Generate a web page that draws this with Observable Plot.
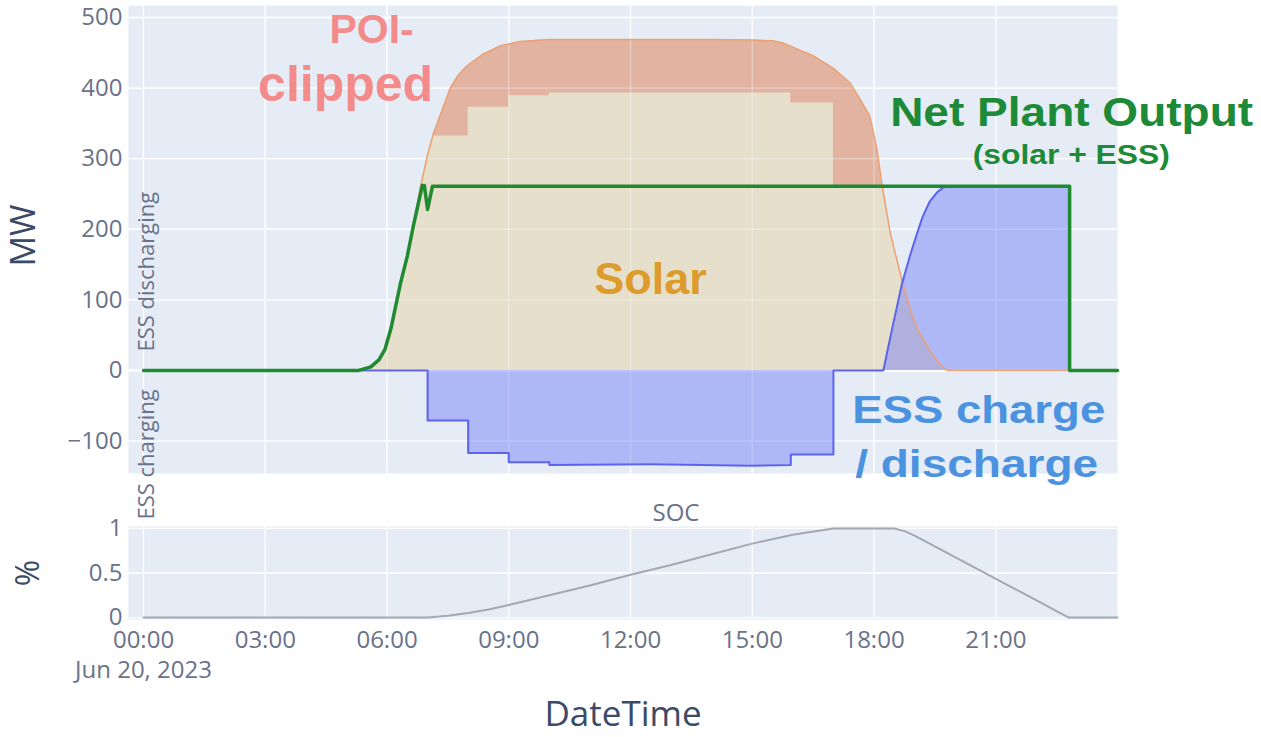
<!DOCTYPE html>
<html>
<head>
<meta charset="utf-8">
<script src="https://cdn.jsdelivr.net/npm/d3@7"></script>
<script src="https://cdn.jsdelivr.net/npm/@observablehq/plot@0.6"></script>
<style>
  html, body { margin: 0; padding: 0; background: #ffffff; }
  #chart { position: relative; width: 1261px; height: 737px; overflow: hidden; }
  #chart svg { position: absolute; left: 0; top: 0; }
</style>
</head>
<body>
<div id="chart"></div>
<script>
// ---------- data (hours after 2023-06-20 00:00 UTC) ----------
const solarHours = [0, 5.3, 5.6, 5.8, 5.95, 6.1, 6.33, 6.5, 6.65, 6.82, 7.0, 7.14, 7.32, 7.56, 7.75, 7.98, 8.37, 8.8, 9.29, 10, 12, 14, 15, 15.5, 15.76, 16.0, 16.5, 17.0, 17.4, 17.65, 17.9, 18.08, 18.2, 18.4, 18.69, 18.9, 19.1, 19.38, 19.6, 19.8, 24];
const solarMW    = [0, 0, 5, 15, 30, 60, 123, 162, 205, 259, 305, 335, 363, 400, 418, 432, 448, 460, 466, 469, 469, 469, 468, 467, 464, 458, 446, 428, 408, 385, 360, 311, 262, 195, 127, 85, 55, 28, 10, 0, 0];

const deliveredHours = [0, 5.3, 5.6, 5.8, 5.95, 6.1, 6.33, 6.5, 6.65, 6.82, 7.0, 7.12, 8.0, 8.0, 9.0, 9.0, 10.0, 10.0, 15.95, 15.95, 17.0, 17.0, 18.2, 18.4, 18.69, 18.9, 19.1, 19.38, 19.6, 19.8, 24];
const deliveredMW    = [0, 0, 5, 15, 30, 60, 123, 162, 205, 259, 305, 332, 332, 373, 373, 389, 389, 393, 393, 379, 379, 260, 260, 195, 127, 85, 55, 28, 10, 0, 0];

const essHours = [0, 7.0, 7.0, 8.0, 8.0, 9.0, 9.0, 10.0, 10.0, 12.5, 15.0, 15.95, 15.95, 17.0, 17.0, 18.23, 18.45, 18.69, 18.9, 19.06, 19.2, 19.38, 19.55, 19.7, 19.85, 22.82, 22.82, 24];
const essMW    = [0, 0, -71, -71, -117, -117, -130, -130, -134, -133, -135, -134, -119, -119, 0, 0, 60, 123, 165, 194, 218, 240, 252, 259, 261, 261, 0, 0];

const netHours = [0, 5.3, 5.6, 5.8, 5.95, 6.1, 6.33, 6.5, 6.65, 6.87, 6.92, 7.0, 7.12, 22.82, 22.82, 24];
const netMW    = [0, 0, 5, 15, 30, 60, 123, 162, 205, 262, 262, 228, 261, 261, 0, 0];

const socHours = [0, 7.0, 7.5, 8.0, 8.5, 9.0, 10, 11, 12, 13, 14, 15, 16, 17.0, 18.5, 18.75, 19.0, 22.8, 24];
const socValue = [0, 0, 0.02, 0.05, 0.09, 0.14, 0.25, 0.36, 0.48, 0.59, 0.71, 0.83, 0.93, 1.0, 1.0, 0.97, 0.92, 0, 0];

const xTickHours = [0, 3, 6, 9, 12, 15, 18, 21];
const yTicksMW = [-100, 0, 100, 200, 300, 400, 500];
const yTicksSOC = [0, 0.5, 1];
const dateLabel = "Jun 20, 2023";

// ---------- helpers ----------
const t = h => new Date(Date.UTC(2023, 5, 20) + h * 3600000);
const rows = (hours, vals) => hours.map((h, i) => ({time: t(h), value: vals[i]}));
const solar = rows(solarHours, solarMW);
const delivered = rows(deliveredHours, deliveredMW);
const ess = rows(essHours, essMW);
const net = rows(netHours, netMW);
const soc = rows(socHours, socValue);
const xTicks = xTickHours.map(t);
const xDomain = [t(-0.37), t(24)];

const BG = "#e5ecf6";
const TICK = "#69728a";
const TITLE = "#3b4a66";
const ANN = "Liberation Sans, Arial, sans-serif";
const baseStyle = {background: "transparent", fontFamily: "'Open Sans', sans-serif", fontSize: "24px", color: TICK, overflow: "visible"};

const topPlot = Plot.plot({
  width: 1261, height: 737,
  marginLeft: 128, marginRight: 144, marginTop: 5, marginBottom: 264,
  style: baseStyle,
  x: {type: "utc", domain: xDomain, axis: null},
  y: {domain: [-146, 517], ticks: yTicksMW, tickSize: 0, tickPadding: 6, label: null},
  marks: [
    Plot.frame({fill: BG, stroke: null}),
    Plot.ruleX(xTicks, {stroke: "white", strokeWidth: 1.3}),
    Plot.ruleY(yTicksMW, {stroke: "white", strokeWidth: 1.3}),
    Plot.ruleY([0], {stroke: "white", strokeWidth: 2.5}),
    Plot.areaY(solar, {x: "time", y1: 0, y2: "value", fill: "#e2b3a1"}),
    Plot.areaY(delivered, {x: "time", y1: 0, y2: "value", fill: "#e6dfcb"}),
    Plot.ruleX(xTicks, {stroke: "white", strokeOpacity: 0.35, strokeWidth: 1.3}),
    Plot.ruleY(yTicksMW, {stroke: "white", strokeOpacity: 0.35, strokeWidth: 1.3}),
    Plot.areaY(ess, {x: "time", y1: 0, y2: "value", fill: "#6470f5", fillOpacity: 0.42}),
    Plot.lineY(solar, {x: "time", y: "value", stroke: "#eda172", strokeWidth: 1.5}),
    Plot.lineY(ess, {x: "time", y: "value", stroke: "#5c64ee", strokeWidth: 2}),
    Plot.lineY(net, {x: "time", y: "value", stroke: "#1f8a30", strokeWidth: 3.5}),
    // side labels
    Plot.text(["ESS discharging"], {frameAnchor: "left", y: [140], dx: 18, rotate: -90, textAnchor: "middle", lineAnchor: "middle", fontSize: 22, fill: TICK}),
    Plot.text(["ESS charging"], {frameAnchor: "left", y: [-119], dx: 18, rotate: -90, textAnchor: "middle", lineAnchor: "middle", fontSize: 22, fill: TICK}),
    Plot.text(["MW"], {frameAnchor: "left", dx: -104, dy: -4, rotate: -90, textAnchor: "middle", lineAnchor: "middle", fontSize: 34, fill: TITLE}),
    // annotations
    Plot.text(["POI-"], {x: [t(5.62)], y: [463.6], textAnchor: "middle", lineAnchor: "bottom", fontSize: 41, fontWeight: "bold", fontFamily: ANN, fill: "#f38b8b"}),
    Plot.text(["clipped"], {x: [t(4.98)], y: [382], textAnchor: "middle", lineAnchor: "bottom", fontSize: 50, fontWeight: "bold", fontFamily: ANN, fill: "#f38b8b"}),
    Plot.text(["Solar"], {x: [t(12.49)], y: [109], textAnchor: "middle", lineAnchor: "bottom", fontSize: 45, fontWeight: "bold", fontFamily: ANN, fill: "#dc9b2a"}),
    Plot.text(["Net Plant Output"], {x: [t(22.87)], y: [347], textAnchor: "middle", lineAnchor: "bottom", fontSize: 40, fontWeight: "bold", fontFamily: ANN, fill: "#1c8a36"}),
    Plot.text(["(solar + ESS)"], {x: [t(22.86)], y: [293], textAnchor: "middle", lineAnchor: "bottom", fontSize: 27, fontWeight: "bold", fontFamily: ANN, fill: "#1c8a36"}),
    Plot.text(["ESS charge"], {x: [t(20.58)], y: [-75], textAnchor: "middle", lineAnchor: "bottom", fontSize: 39, fontWeight: "bold", fontFamily: ANN, fill: "#4b92e0"}),
    Plot.text(["/ discharge"], {x: [t(20.53)], y: [-151], textAnchor: "middle", lineAnchor: "bottom", fontSize: 38, fontWeight: "bold", fontFamily: ANN, fill: "#4b92e0"})
  ]
});

const bottomPlot = Plot.plot({
  width: 1261, height: 737,
  marginLeft: 128, marginRight: 144, marginTop: 526, marginBottom: 118,
  style: baseStyle,
  x: {type: "utc", domain: xDomain, ticks: xTicks, tickFormat: d3.utcFormat("%H:%M"), tickSize: 0, tickPadding: 11, label: null},
  y: {domain: [-0.022, 1.022], ticks: yTicksSOC, tickFormat: d => String(d), tickSize: 0, tickPadding: 6, label: null},
  marks: [
    Plot.frame({fill: BG, stroke: null}),
    Plot.ruleX(xTicks, {stroke: "white", strokeWidth: 1.3}),
    Plot.ruleY(yTicksSOC, {stroke: "white", strokeWidth: 1.3}),
    Plot.lineY(soc, {x: "time", y: "value", stroke: "#a4a8b2", strokeWidth: 2}),
    Plot.text([dateLabel], {x: [t(0)], frameAnchor: "bottom", dy: 58, textAnchor: "middle", lineAnchor: "bottom", fontSize: 24, fill: TICK}),
    Plot.text(["SOC"], {frameAnchor: "top", dx: 53, dy: -6, textAnchor: "middle", lineAnchor: "bottom", fontSize: 24, fill: TICK}),
    Plot.text(["%"], {frameAnchor: "left", dx: -100, rotate: -90, textAnchor: "middle", lineAnchor: "middle", fontSize: 32, fill: TITLE}),
    Plot.text(["DateTime"], {frameAnchor: "bottom", dy: 106, textAnchor: "middle", lineAnchor: "bottom", fontSize: 35, fill: TITLE})
  ]
});

const chart = document.getElementById("chart");
chart.appendChild(topPlot);
chart.appendChild(bottomPlot);

// annotation text in the reference is set wider than the plain font
const stretchWidths = {"Net Plant Output": 363, "(solar + ESS)": 197, "ESS charge": 253, "/ discharge": 243};
d3.select(topPlot).selectAll("text").each(function() {
  const w = stretchWidths[this.textContent];
  if (w) {
    this.setAttribute("textLength", w);
    this.setAttribute("lengthAdjust", "spacingAndGlyphs");
  }
});
</script>
</body>
</html>
